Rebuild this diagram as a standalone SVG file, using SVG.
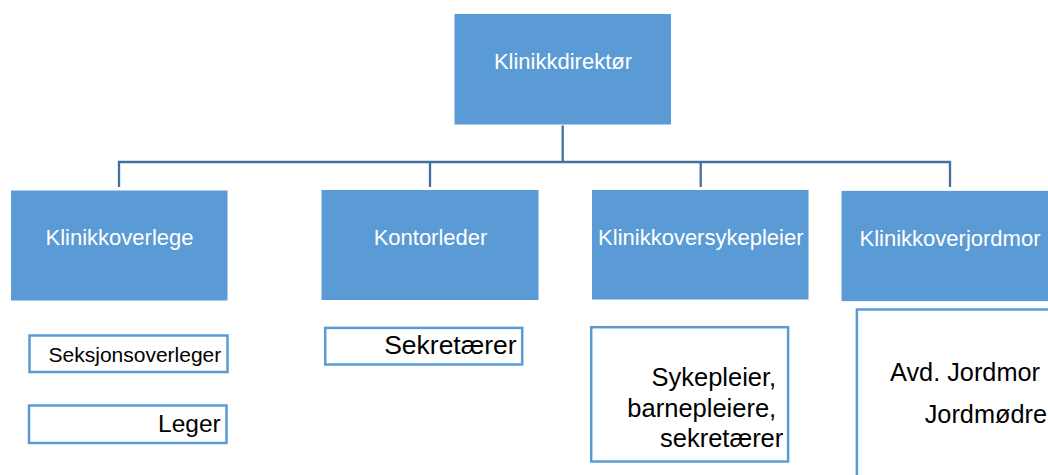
<svg xmlns="http://www.w3.org/2000/svg" width="1048" height="475" viewBox="0 0 1048 475">
  <style>
    .box { fill: #5B9BD5; stroke: #FFFFFF; stroke-width: 1; }
    .sub { fill: #FFFFFF; stroke: #5B9BD5; stroke-width: 2.5; }
    .conn { fill: none; stroke: #41719C; stroke-width: 2.3; }
    .lbl { font-family: "Liberation Sans", Arial, sans-serif; fill: #FFFFFF; font-size: 22px; text-anchor: middle; }
    .txt { font-family: "Liberation Sans", Arial, sans-serif; fill: #000000; text-anchor: end; }
  </style>
  <rect width="1048" height="475" fill="#FFFFFF"/>
  <g id="connectors">
    <path class="conn" d="M562.7,125 V162"/>
    <path class="conn" d="M119,187 V162 H950 V187"/>
    <path class="conn" d="M430,162 V187"/>
    <path class="conn" d="M700.7,162 V187"/>
  </g>
  <g id="klinikkdirektor">
    <rect class="box" x="454" y="13.5" width="217.5" height="111.5"/>
    <text class="lbl" x="563" y="69">Klinikkdirektør</text>
  </g>
  <g id="klinikkoverlege">
    <rect class="box" x="10.5" y="190" width="217.5" height="111"/>
    <text class="lbl" x="119.5" y="245">Klinikkoverlege</text>
  </g>
  <g id="kontorleder">
    <rect class="box" x="321" y="189.5" width="218" height="111"/>
    <text class="lbl" x="430.5" y="245">Kontorleder</text>
  </g>
  <g id="klinikkoversykepleier">
    <rect class="box" x="591.5" y="189.5" width="217.5" height="110.5"/>
    <text class="lbl" x="700.8" y="245">Klinikkoversykepleier</text>
  </g>
  <g id="klinikkoverjordmor">
    <rect class="box" x="841" y="190.3" width="218" height="111.4"/>
    <text class="lbl" x="950" y="246">Klinikkoverjordmor</text>
  </g>
  <g id="seksjonsoverleger">
    <rect class="sub" x="29.5" y="335.5" width="198" height="36.5"/>
    <text class="txt" x="221.3" y="361.7" font-size="21">Seksjonsoverleger</text>
  </g>
  <g id="leger">
    <rect class="sub" x="29" y="405.5" width="197.5" height="37.5"/>
    <text class="txt" x="220.7" y="431.7" font-size="24.5">Leger</text>
  </g>
  <g id="sekretaerer">
    <rect class="sub" x="325.2" y="327.9" width="197" height="36.6"/>
    <text class="txt" x="516.7" y="354.3" font-size="26.5">Sekretærer</text>
  </g>
  <g id="sykepleier">
    <rect class="sub" x="591.2" y="327.2" width="196.9" height="134.3"/>
    <text class="txt" font-size="25.5">
      <tspan x="783.3" y="386">Sykepleier,</tspan>
      <tspan x="783.3" y="416.7">barnepleiere,</tspan>
      <tspan x="783.3" y="447.3">sekretærer</tspan>
    </text>
  </g>
  <g id="avd-jordmor">
    <rect class="sub" x="856.9" y="309.5" width="220" height="200"/>
    <text class="txt" font-size="25.3">
      <tspan x="1047" y="380.7">Avd. Jordmor</tspan>
      <tspan x="1047" y="423.3">Jordmødre</tspan>
    </text>
  </g>
</svg>
